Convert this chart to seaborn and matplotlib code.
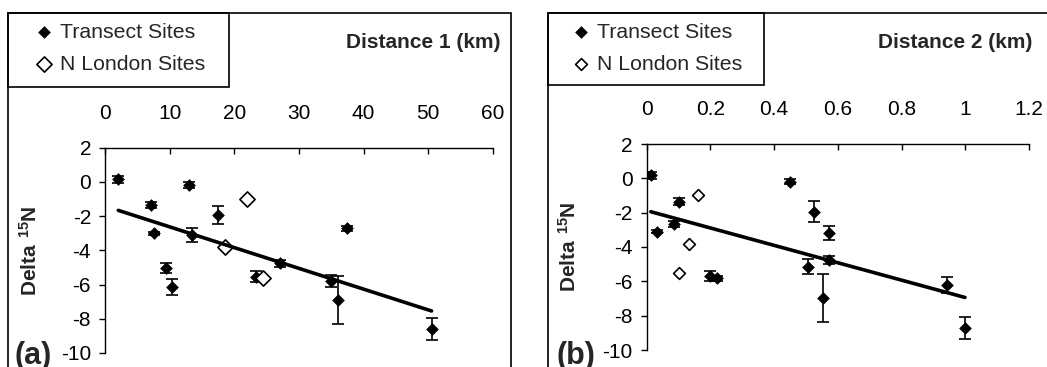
import numpy as np
import pandas as pd
import matplotlib
matplotlib.use('Agg')
import matplotlib.pyplot as plt
import seaborn as sns
from matplotlib.patches import Rectangle
from matplotlib.ticker import MultipleLocator, FormatStrFormatter

# panel (a): distance 1 (km)
transect_d1 = [2.06, 7.05, 7.5, 9.4, 10.3, 13.0, 13.4, 17.4, 23.4, 27.0, 34.9, 36.0, 37.4, 50.5]
transect_n1 = [0.15, -1.35, -3.0, -5.04, -6.15, -0.18, -3.1, -1.93, -5.53, -4.75, -5.82, -6.89, -2.71, -8.6]
transect_err1 = [0.2, 0.2, 0.1, 0.3, 0.45, 0.15, 0.4, 0.55, 0.3, 0.2, 0.35, 1.4, 0.15, 0.65]
london_d1 = [18.5, 21.9, 24.5]
london_n1 = [-3.78, -1.02, -5.59]

# panel (b): distance 2 (km)
transect_d2 = [0.013, 0.031, 0.086, 0.10, 0.199, 0.22, 0.45, 0.507, 0.525, 0.554, 0.573, 0.573, 0.942, 0.999]
transect_n2 = [0.19, -3.1, -2.66, -1.36, -5.69, -5.82, -0.19, -5.15, -1.94, -6.95, -3.2, -4.76, -6.21, -8.7]
transect_err2 = [0.2, 0.1, 0.2, 0.2, 0.3, 0.15, 0.15, 0.45, 0.6, 1.4, 0.4, 0.25, 0.45, 0.65]
london_d2 = [0.101, 0.132, 0.162]
london_n2 = [-5.53, -3.83, -0.95]

sns.set_style("white")
plt.rcParams['font.family'] = ['Liberation Sans', 'DejaVu Sans']
plt.rcParams['axes.unicode_minus'] = False
plt.rcParams['mathtext.fontset'] = 'custom'
plt.rcParams['mathtext.bf'] = 'Liberation Sans:bold'
plt.rcParams['mathtext.rm'] = 'Liberation Sans'

W, H = 1047, 367
fig = plt.figure(figsize=(W / 100, H / 100), dpi=100)


def fx(px):
    return px / W


def fy(py):
    return 1 - py / H


def draw_panel(ax, d, n, err, ld, ln, xmax, xstep, title, tag,
               box_x, legend_w, legend_h, title_x, tag_x, open_size, ylab_x, leg_dx):
    ax.errorbar(d, n, yerr=err, fmt='none', ecolor='black', elinewidth=1.2,
                capsize=4.5, capthick=1.2, zorder=2)
    sns.scatterplot(x=d, y=n, ax=ax, marker='D', color='black', s=42,
                    linewidth=0, label='Transect Sites', zorder=3)
    sns.scatterplot(x=ld, y=ln, ax=ax, marker='D', color='white', edgecolor='black',
                    s=open_size, linewidth=1.2, label='N London Sites', zorder=3)
    sns.regplot(x=d, y=n, ax=ax, scatter=False, ci=None, truncate=True,
                color='black', line_kws={'lw': 2.6, 'zorder': 4})

    ax.set_xlim(0, xmax)
    ax.set_ylim(-10, 2)
    ax.xaxis.set_major_locator(MultipleLocator(xstep))
    ax.xaxis.set_major_formatter(FormatStrFormatter('%g'))
    ax.yaxis.set_major_locator(MultipleLocator(2))
    ax.xaxis.tick_top()
    ax.tick_params(axis='x', direction='in', length=4, width=1, pad=18,
                   labelsize=15, colors='black')
    ax.tick_params(axis='y', direction='out', length=4, width=1, pad=6,
                   labelsize=15, colors='black', left=True)
    for s in ['bottom', 'right']:
        ax.spines[s].set_visible(False)
    for s in ['top', 'left']:
        ax.spines[s].set_color('black')
        ax.spines[s].set_linewidth(1)
    ax.set_xlabel('')
    ax.set_ylabel(r'$\mathbf{Delta\ ^{15}N}$', fontsize=15)
    ax.yaxis.set_label_coords(ylab_x, 0.5)

    handles, labels = ax.get_legend_handles_labels()
    ax.legend(handles, labels, loc='upper left',
              bbox_to_anchor=(fx(box_x + leg_dx), fy(23)), bbox_transform=fig.transFigure,
              frameon=False, fontsize=15.3, handlelength=0.75, handletextpad=0.4,
              borderpad=0, borderaxespad=0, labelspacing=0.6)

    # chart area and legend boxes
    fig.add_artist(Rectangle((fx(box_x), -0.1), fx(503), fy(13) + 0.1,
                             transform=fig.transFigure, fill=False, ec='black', lw=1.2))
    fig.add_artist(Rectangle((fx(box_x), fy(13 + legend_h)), fx(legend_w), legend_h / H,
                             transform=fig.transFigure, fill=False, ec='black', lw=1.2))
    fig.text(fx(title_x), fy(43), title, ha='right', va='center',
             fontsize=15, fontweight='bold')
    fig.text(fx(tag_x), fy(341), tag, ha='left', va='top',
             fontsize=22, fontweight='bold')


ax1 = fig.add_axes([fx(105), fy(353), fx(493 - 105), (353 - 147.7) / H])
draw_panel(ax1, transect_d1, transect_n1, transect_err1, london_d1, london_n1,
           60, 10, 'Distance 1 (km)', '(a)',
           8, 221, 74, 500, 14, 60, -0.165, 28)

ax2 = fig.add_axes([fx(646.7), fy(350), fx(1029 - 646.7), (350 - 144) / H])
draw_panel(ax2, transect_d2, transect_n2, transect_err2, london_d2, london_n2,
           1.2, 0.2, 'Distance 2 (km)', '(b)',
           548, 216, 72, 1032, 557, 36, -0.174, 25)

fig.savefig('out.png', dpi=100)
